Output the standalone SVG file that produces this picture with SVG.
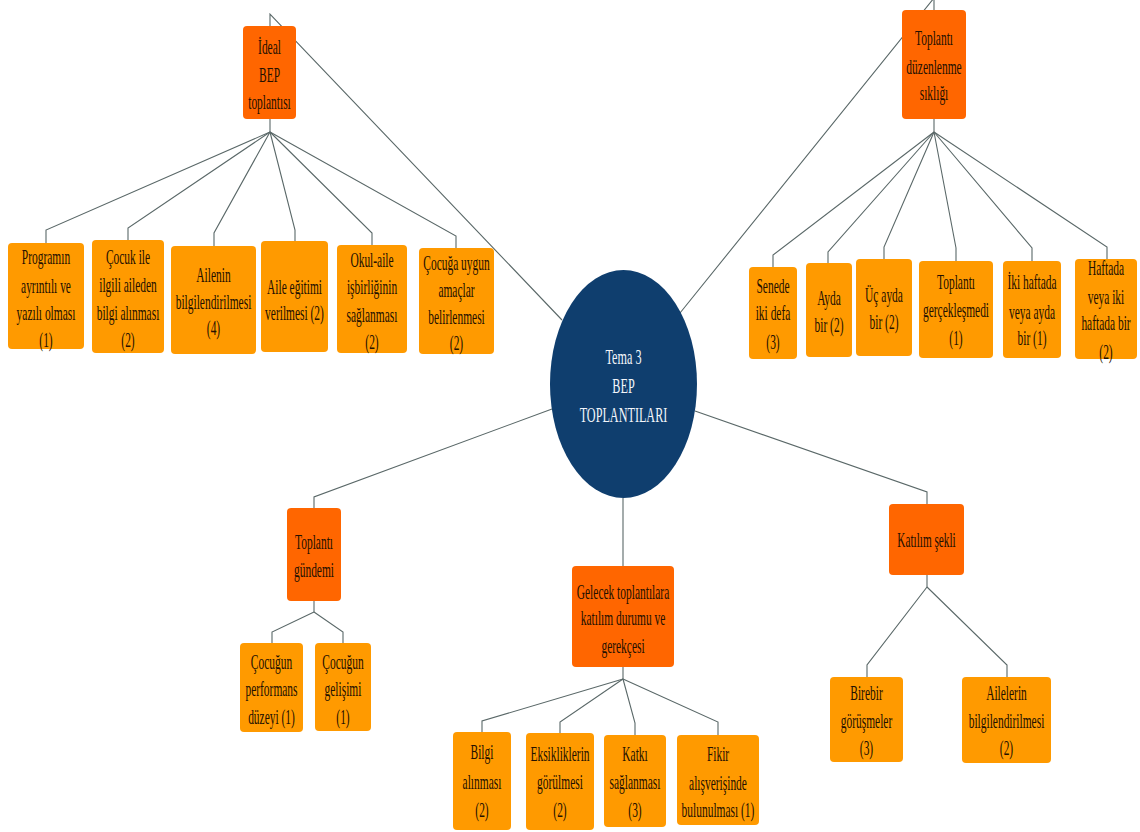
<svg xmlns="http://www.w3.org/2000/svg" width="1140" height="832" viewBox="0 0 1140 832">
<style>
.bg{fill:#ffffff}
.p{fill:#ff6600}
.c{fill:#ff9a00}
.t{font-family:"Liberation Serif","Times New Roman",serif;font-size:21px;fill:#241000;text-anchor:middle}
.w{font-family:"Liberation Serif","Times New Roman",serif;font-size:21px;fill:#f2f5fa;text-anchor:middle}
.ln{fill:none;stroke:#5a6868;stroke-width:1.1}
</style>
<rect class="bg" x="0" y="0" width="1140" height="832"/>
<g id="connectors">
<path class="ln" d="M562,320 L270,14 L270,26"/>
<path class="ln" d="M680,313 L934,-2 L934,10"/>
<path class="ln" d="M552,409 L314,497 L314,508"/>
<path class="ln" d="M695,411 L927,492 L927,504"/>
<path class="ln" d="M623,498 L623,566"/>
<path class="ln" d="M270,119 L270,132"/>
<path class="ln" d="M270,132 L46,230 L46,243"/>
<path class="ln" d="M270,132 L128,228 L128,240"/>
<path class="ln" d="M270,132 L214,233 L214,246"/>
<path class="ln" d="M270,132 L295,230 L295,241"/>
<path class="ln" d="M270,132 L372,233 L372,245"/>
<path class="ln" d="M270,132 L456,236 L456,248"/>
<path class="ln" d="M934,119 L934,132"/>
<path class="ln" d="M934,132 L773,255 L773,267"/>
<path class="ln" d="M934,132 L828,252 L828,263"/>
<path class="ln" d="M934,132 L884,247 L884,259"/>
<path class="ln" d="M934,132 L956,248 L956,261"/>
<path class="ln" d="M934,132 L1032,248 L1032,261"/>
<path class="ln" d="M934,132 L1107,247 L1107,259"/>
<path class="ln" d="M314,601 L314,612"/>
<path class="ln" d="M314,612 L272,632 L272,643"/>
<path class="ln" d="M314,612 L343,632 L343,643"/>
<path class="ln" d="M623,667 L623,679"/>
<path class="ln" d="M623,679 L482,721 L482,732"/>
<path class="ln" d="M623,679 L560,722 L560,733"/>
<path class="ln" d="M623,679 L635,723 L635,735"/>
<path class="ln" d="M623,679 L718,722 L718,735"/>
<path class="ln" d="M927,575 L927,587"/>
<path class="ln" d="M927,587 L867,665 L867,677"/>
<path class="ln" d="M927,587 L1007,665 L1007,677"/>
</g>
<g id="center">
<ellipse cx="623.5" cy="384" rx="73.5" ry="114" fill="#0f3e6e"/>
<text class="w" transform="translate(623.5 0) scale(0.58 1)"><tspan x="0" y="364">Tema 3</tspan><tspan x="0" y="393">BEP</tspan><tspan x="0" y="422">TOPLANTILARI</tspan></text>
</g>
<g id="ideal">
<rect class="p" x="243" y="26" width="53" height="93" rx="4"/>
<text class="t" transform="translate(269.5 0) scale(0.545 1)"><tspan x="0" y="54">İdeal</tspan><tspan x="0" y="82">BEP</tspan><tspan x="0" y="109">toplantısı</tspan></text>
</g>
<g id="ideal-1">
<rect class="c" x="8" y="243" width="76" height="106" rx="4"/>
<text class="t" transform="translate(46 0) scale(0.545 1)"><tspan x="0" y="264">Programın</tspan><tspan x="0" y="293">ayrıntılı ve</tspan><tspan x="0" y="320">yazılı olması</tspan><tspan x="0" y="347">(1)</tspan></text>
</g>
<g id="ideal-2">
<rect class="c" x="92" y="240" width="72" height="113" rx="4"/>
<text class="t" transform="translate(128 0) scale(0.545 1)"><tspan x="0" y="264">Çocuk ile</tspan><tspan x="0" y="292">ilgili aileden</tspan><tspan x="0" y="320">bilgi alınması</tspan><tspan x="0" y="347">(2)</tspan></text>
</g>
<g id="ideal-3">
<rect class="c" x="171" y="246" width="85" height="108" rx="4"/>
<text class="t" transform="translate(213.5 0) scale(0.545 1)"><tspan x="0" y="282">Ailenin</tspan><tspan x="0" y="309">bilgilendirilmesi</tspan><tspan x="0" y="335">(4)</tspan></text>
</g>
<g id="ideal-4">
<rect class="c" x="261" y="241" width="67" height="111" rx="4"/>
<text class="t" transform="translate(294.5 0) scale(0.545 1)"><tspan x="0" y="294">Aile eğitimi</tspan><tspan x="0" y="320">verilmesi (2)</tspan></text>
</g>
<g id="ideal-5">
<rect class="c" x="337" y="245" width="70" height="108" rx="4"/>
<text class="t" transform="translate(372 0) scale(0.545 1)"><tspan x="0" y="267">Okul-aile</tspan><tspan x="0" y="294">işbirliğinin</tspan><tspan x="0" y="322">sağlanması</tspan><tspan x="0" y="349">(2)</tspan></text>
</g>
<g id="ideal-6">
<rect class="c" x="419" y="248" width="75" height="106" rx="4"/>
<text class="t" transform="translate(456.5 0) scale(0.545 1)"><tspan x="0" y="270">Çocuğa uygun</tspan><tspan x="0" y="297">amaçlar</tspan><tspan x="0" y="324">belirlenmesi</tspan><tspan x="0" y="350">(2)</tspan></text>
</g>
<g id="siklik">
<rect class="p" x="902" y="10" width="64" height="109" rx="4"/>
<text class="t" transform="translate(934 0) scale(0.545 1)"><tspan x="0" y="45">Toplantı</tspan><tspan x="0" y="74">düzenlenme</tspan><tspan x="0" y="100">sıklığı</tspan></text>
</g>
<g id="siklik-1">
<rect class="c" x="749" y="267" width="48" height="92" rx="4"/>
<text class="t" transform="translate(773 0) scale(0.545 1)"><tspan x="0" y="293">Senede</tspan><tspan x="0" y="320">iki defa</tspan><tspan x="0" y="349">(3)</tspan></text>
</g>
<g id="siklik-2">
<rect class="c" x="806" y="263" width="46" height="94" rx="4"/>
<text class="t" transform="translate(829 0) scale(0.545 1)"><tspan x="0" y="305">Ayda</tspan><tspan x="0" y="332">bir (2)</tspan></text>
</g>
<g id="siklik-3">
<rect class="c" x="856" y="259" width="56" height="97" rx="4"/>
<text class="t" transform="translate(884 0) scale(0.545 1)"><tspan x="0" y="302">Üç ayda</tspan><tspan x="0" y="329">bir (2)</tspan></text>
</g>
<g id="siklik-4">
<rect class="c" x="919" y="261" width="74" height="97" rx="4"/>
<text class="t" transform="translate(956 0) scale(0.545 1)"><tspan x="0" y="289">Toplantı</tspan><tspan x="0" y="317">gerçekleşmedi</tspan><tspan x="0" y="345">(1)</tspan></text>
</g>
<g id="siklik-5">
<rect class="c" x="1003" y="261" width="58" height="97" rx="4"/>
<text class="t" transform="translate(1032 0) scale(0.545 1)"><tspan x="0" y="289">İki haftada</tspan><tspan x="0" y="319">veya ayda</tspan><tspan x="0" y="345">bir (1)</tspan></text>
</g>
<g id="siklik-6">
<rect class="c" x="1075" y="259" width="62" height="100" rx="4"/>
<text class="t" transform="translate(1106 0) scale(0.545 1)"><tspan x="0" y="275">Haftada</tspan><tspan x="0" y="304">veya iki</tspan><tspan x="0" y="330">haftada bir</tspan><tspan x="0" y="359">(2)</tspan></text>
</g>
<g id="gundem">
<rect class="p" x="287" y="508" width="54" height="93" rx="4"/>
<text class="t" transform="translate(314 0) scale(0.545 1)"><tspan x="0" y="549">Toplantı</tspan><tspan x="0" y="577">gündemi</tspan></text>
</g>
<g id="gundem-1">
<rect class="c" x="240" y="643" width="63" height="89" rx="4"/>
<text class="t" transform="translate(271.5 0) scale(0.545 1)"><tspan x="0" y="669">Çocuğun</tspan><tspan x="0" y="696">performans</tspan><tspan x="0" y="724">düzeyi (1)</tspan></text>
</g>
<g id="gundem-2">
<rect class="c" x="315" y="643" width="56" height="88" rx="4"/>
<text class="t" transform="translate(343 0) scale(0.545 1)"><tspan x="0" y="669">Çocuğun</tspan><tspan x="0" y="696">gelişimi</tspan><tspan x="0" y="724">(1)</tspan></text>
</g>
<g id="gelecek">
<rect class="p" x="572" y="566" width="102" height="101" rx="4"/>
<text class="t" transform="translate(623 0) scale(0.545 1)"><tspan x="0" y="599">Gelecek toplantılara</tspan><tspan x="0" y="625">katılım durumu ve</tspan><tspan x="0" y="653">gerekçesi</tspan></text>
</g>
<g id="gelecek-1">
<rect class="c" x="453" y="732" width="58" height="98" rx="4"/>
<text class="t" transform="translate(482 0) scale(0.545 1)"><tspan x="0" y="759">Bilgi</tspan><tspan x="0" y="789">alınması</tspan><tspan x="0" y="817">(2)</tspan></text>
</g>
<g id="gelecek-2">
<rect class="c" x="526" y="733" width="68" height="97" rx="4"/>
<text class="t" transform="translate(560 0) scale(0.545 1)"><tspan x="0" y="761">Eksikliklerin</tspan><tspan x="0" y="789">görülmesi</tspan><tspan x="0" y="817">(2)</tspan></text>
</g>
<g id="gelecek-3">
<rect class="c" x="604" y="735" width="62" height="92" rx="4"/>
<text class="t" transform="translate(635 0) scale(0.545 1)"><tspan x="0" y="761">Katkı</tspan><tspan x="0" y="789">sağlanması</tspan><tspan x="0" y="817">(3)</tspan></text>
</g>
<g id="gelecek-4">
<rect class="c" x="677" y="735" width="82" height="90" rx="4"/>
<text class="t" transform="translate(718 0) scale(0.545 1)"><tspan x="0" y="761">Fikir</tspan><tspan x="0" y="790">alışverişinde</tspan><tspan x="0" y="817">bulunulması (1)</tspan></text>
</g>
<g id="katilim">
<rect class="p" x="889" y="504" width="75" height="71" rx="4"/>
<text class="t" transform="translate(926.5 0) scale(0.535 1)"><tspan x="0" y="547">Katılım şekli</tspan></text>
</g>
<g id="katilim-1">
<rect class="c" x="830" y="677" width="73" height="85" rx="4"/>
<text class="t" transform="translate(866.5 0) scale(0.545 1)"><tspan x="0" y="700">Birebir</tspan><tspan x="0" y="728">görüşmeler</tspan><tspan x="0" y="755">(3)</tspan></text>
</g>
<g id="katilim-2">
<rect class="c" x="962" y="677" width="89" height="86" rx="4"/>
<text class="t" transform="translate(1006.5 0) scale(0.545 1)"><tspan x="0" y="700">Ailelerin</tspan><tspan x="0" y="728">bilgilendirilmesi</tspan><tspan x="0" y="755">(2)</tspan></text>
</g>
</svg>
